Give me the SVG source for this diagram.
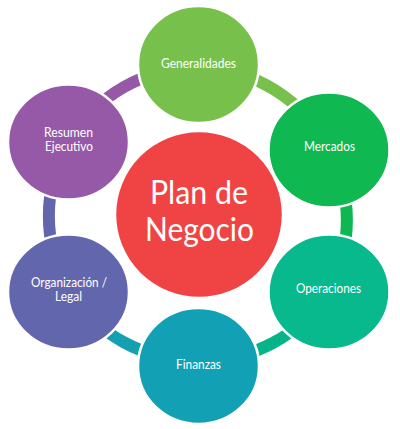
<svg xmlns="http://www.w3.org/2000/svg" width="400" height="429" viewBox="0 0 400 429">
<style>
.ring{fill:none;stroke-width:12}
.node{stroke:#fff;stroke-width:2.5}
.lbl{font-family:Lato,"Open Sans",sans-serif;font-size:12.5px;fill:#fff;text-anchor:middle}
.big{font-family:Lato,"Open Sans",sans-serif;font-size:33px;fill:#fff;text-anchor:middle}
</style>
<rect width="400" height="429" fill="#fff"/>
<g id="connectors">
<path class="ring" stroke="#77C04B" d="M198,68 A146,146 0 0 1 329,150"/>
<path class="ring" stroke="#0DB853" d="M329,150 A146,146 0 0 1 329,290"/>
<path class="ring" stroke="#07B48A" d="M329,290 A146,146 0 0 1 198,360"/>
<path class="ring" stroke="#15A0B2" d="M198,360 A146,146 0 0 1 69,290"/>
<path class="ring" stroke="#6266AD" d="M69,290 A146,146 0 0 1 69,142"/>
<path class="ring" stroke="#9659A7" d="M69,142 A146,146 0 0 1 198,68"/>
</g>
<g id="plan">
<ellipse class="node" cx="199" cy="214.5" rx="84" ry="83.5" fill="#F04444"/>
<text class="big" x="199" y="204" textLength="98" lengthAdjust="spacingAndGlyphs">Plan de</text>
<text class="big" x="199.5" y="241" textLength="109" lengthAdjust="spacingAndGlyphs">Negocio</text>
</g>
<g id="generalidades">
<ellipse class="node" cx="198.5" cy="64.5" rx="60.5" ry="58.5" fill="#77C04B"/>
<text class="lbl" x="198.5" y="68" textLength="75" lengthAdjust="spacingAndGlyphs">Generalidades</text>
</g>
<g id="mercados">
<ellipse class="node" cx="329" cy="150" rx="60.5" ry="57.5" fill="#0FB850"/>
<text class="lbl" x="329.5" y="151" textLength="51" lengthAdjust="spacingAndGlyphs">Mercados</text>
</g>
<g id="operaciones">
<ellipse class="node" cx="329" cy="292" rx="60.5" ry="57.5" fill="#07B98D"/>
<text class="lbl" x="328.5" y="293" textLength="65" lengthAdjust="spacingAndGlyphs">Operaciones</text>
</g>
<g id="finanzas">
<ellipse class="node" cx="198.5" cy="366" rx="60.5" ry="58" fill="#12A0B4"/>
<text class="lbl" x="198.5" y="369" textLength="45" lengthAdjust="spacingAndGlyphs">Finanzas</text>
</g>
<g id="organizacion">
<ellipse class="node" cx="68.5" cy="292" rx="60.5" ry="57.5" fill="#6266AD"/>
<text class="lbl" x="69" y="286.5" textLength="76" lengthAdjust="spacingAndGlyphs">Organización /</text>
<text class="lbl" x="68.5" y="301" textLength="27" lengthAdjust="spacingAndGlyphs">Legal</text>
</g>
<g id="resumen">
<ellipse class="node" cx="68.5" cy="142" rx="60.5" ry="57.5" fill="#9659A7"/>
<text class="lbl" x="68.5" y="136.5" textLength="49" lengthAdjust="spacingAndGlyphs">Resumen</text>
<text class="lbl" x="69" y="151" textLength="48" lengthAdjust="spacingAndGlyphs">Ejecutivo</text>
</g>
</svg>
